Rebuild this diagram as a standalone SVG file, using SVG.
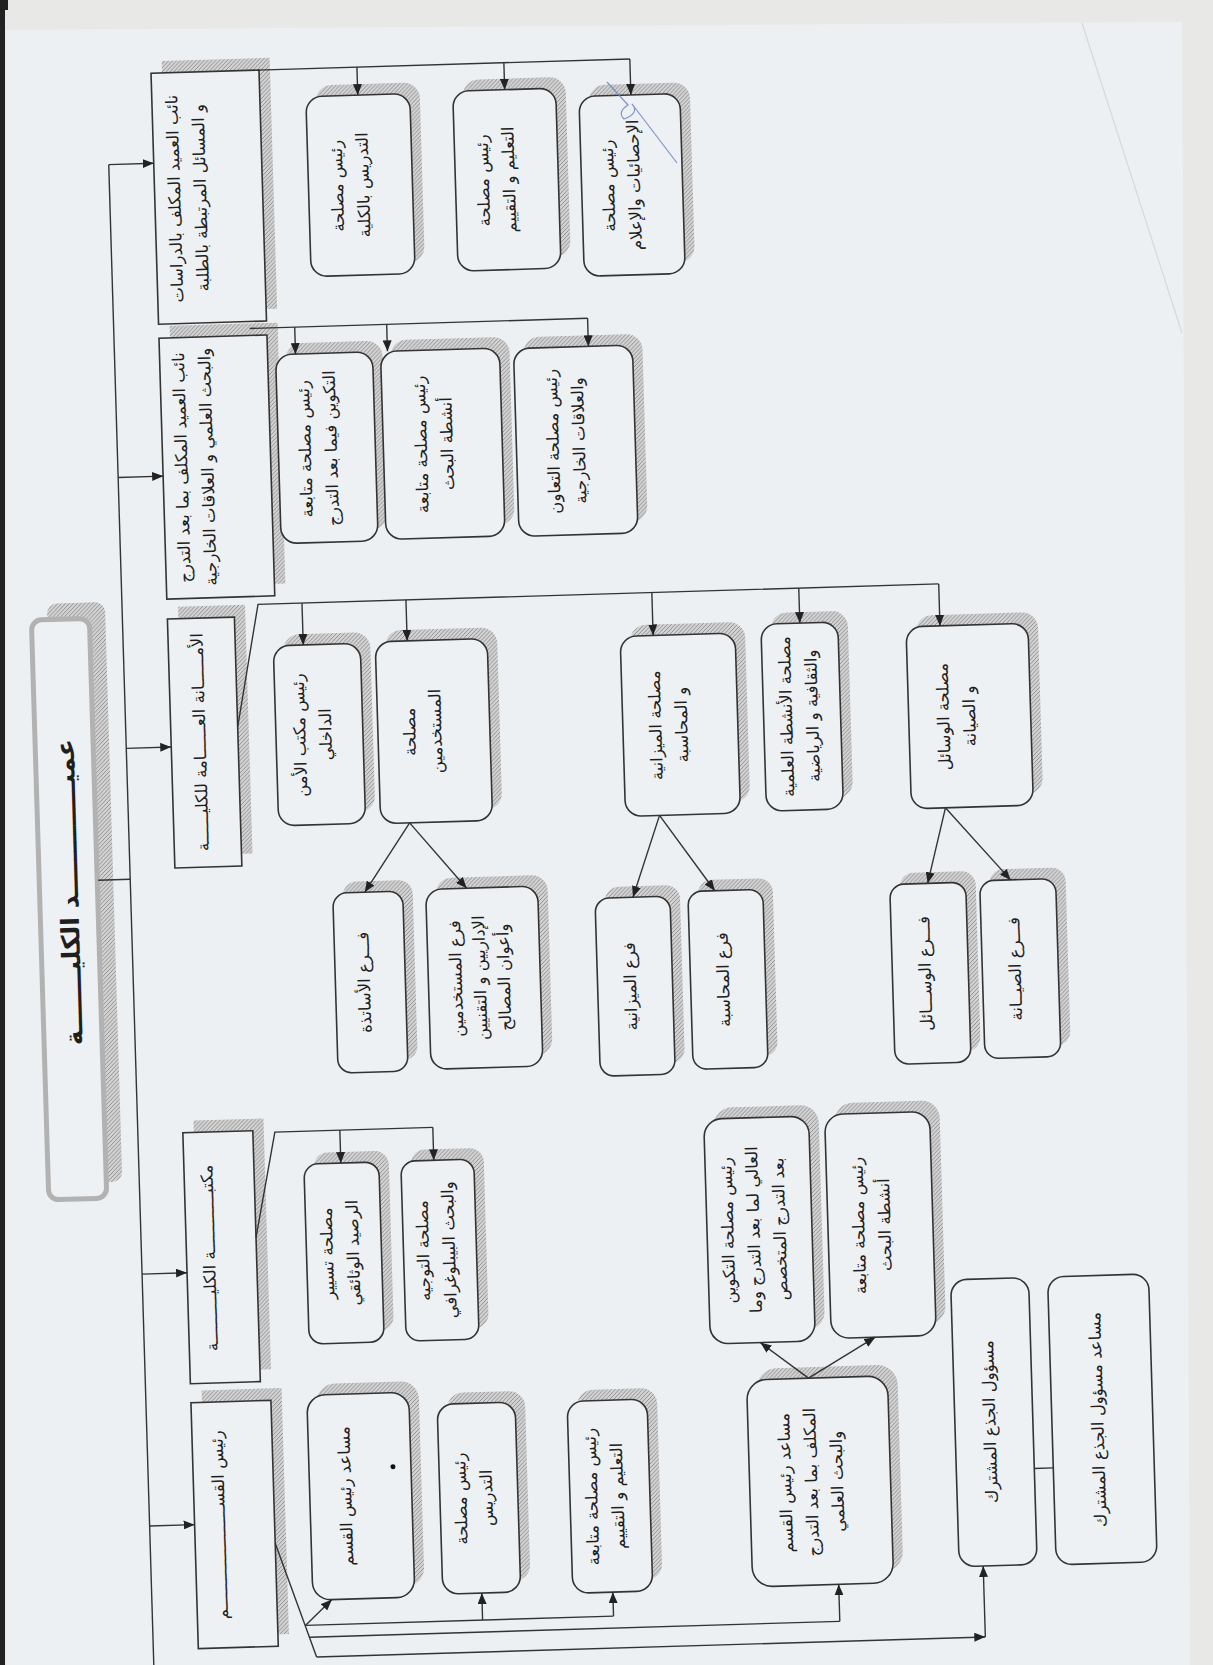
<svg xmlns="http://www.w3.org/2000/svg" width="1213" height="1665" viewBox="0 0 1213 1665">
<defs>
<pattern id="hatch" patternUnits="userSpaceOnUse" width="4" height="4">
<rect width="4" height="4" fill="#d4d4d4"/>
<path d="M-1,1 l2,-2 M0,4 l4,-4 M3,5 l2,-2" stroke="#8e8e8e" stroke-width="1"/>
</pattern>
<marker id="ah" markerUnits="userSpaceOnUse" markerWidth="11" markerHeight="9" refX="11" refY="4.5" orient="auto"><path d="M0,0 L11,4.5 L0,9 z" fill="#222"/></marker>
<style>
.bx{fill:#eef1f3;stroke:#333;stroke-width:1.6}
.sh{fill:url(#hatch)}
.cn{fill:none;stroke:#333;stroke-width:1.4}
.ar{marker-end:url(#ah)}
text{font-family:"DejaVu Sans",sans-serif;font-size:16.5px;fill:#1e1e1e;text-anchor:middle;dominant-baseline:central}
.t{font-size:25px;font-weight:bold}
</style>
</defs>
<rect width="1213" height="1665" fill="#e8e9e6"/>
<polygon points="6,30 1182,22 1190,1665 6,1665" fill="#edf0f2"/>
<line x1="1082" y1="23" x2="1182" y2="333" stroke="#d6d8da" stroke-width="1.2"/>
<rect x="0" y="8" width="5" height="1657" fill="#222"/>
<rect x="0" y="0" width="8" height="10" fill="#222"/>
<g transform="rotate(-1.72 606 832)">
<g id="title">
<rect class="sh" x="54" y="587" width="58" height="580" rx="10"/>
<rect x="38" y="603" width="58" height="580" rx="10" fill="#eef1f3" stroke="#b2b2b2" stroke-width="5"/>
<g transform="translate(68,876) rotate(-90)"><text class="t">عميـــــــــــــد الكليـــــــة</text></g>
</g>
<g id="a1">
<rect class="sh" x="185" y="48" width="108" height="251"/>
<rect class="bx" x="174" y="60" width="108" height="251"/>
<g transform="translate(207,186) rotate(-90)"><text y="-13">نائب العميد المكلف بالدراسات</text><text y="13">و المسائل المرتبطة بالطلبة</text></g>
</g>
<g id="a2">
<rect class="sh" x="185" y="313" width="108" height="261"/>
<rect class="bx" x="174" y="325" width="108" height="261"/>
<g transform="translate(206,455) rotate(-90)"><text y="-13">نائب العميد المكلف بما بعد التدرج</text><text y="13">والبحث العلمي و العلاقات الخارجية</text></g>
</g>
<g id="a3">
<rect class="sh" x="185" y="594" width="67" height="249"/>
<rect class="bx" x="174" y="606" width="67" height="249"/>
<g transform="translate(203,730) rotate(-90)"><text>الأمــــــانة العــــــامة للكليــــــة</text></g>
</g>
<g id="a4">
<rect class="sh" x="185" y="1108" width="70" height="251"/>
<rect class="bx" x="174" y="1120" width="70" height="251"/>
<g transform="translate(197,1246) rotate(-90)"><text>مكتبــــــــــــة الكليــــــــــة</text></g>
</g>
<g id="a5">
<rect class="sh" x="185" y="1378" width="80" height="246"/>
<rect class="bx" x="174" y="1390" width="80" height="246"/>
<g transform="translate(199,1513) rotate(-90)"><text>رئيس القســـــــــــــــــــــم</text></g>
</g>
<g id="c1">
<rect class="sh" x="338" y="77" width="104" height="180" rx="16"/>
<rect class="bx" x="328" y="88" width="104" height="180" rx="16"/>
<g transform="translate(370,178) rotate(-90)"><text y="-13">رئيس مصلحة</text><text y="13">التدريس بالكلية</text></g>
</g>
<g id="c2">
<rect class="sh" x="485" y="76" width="103" height="180" rx="16"/>
<rect class="bx" x="475" y="87" width="103" height="180" rx="16"/>
<g transform="translate(516,177) rotate(-90)"><text y="-13">رئيس مصلحة</text><text y="13">التعليم و التقييم</text></g>
</g>
<g id="c3">
<rect class="sh" x="611" y="85" width="101" height="180" rx="16"/>
<rect class="bx" x="601" y="96" width="101" height="180" rx="16"/>
<g transform="translate(641,186) rotate(-90)"><text y="-13">رئيس مصلحة</text><text y="13">الإحصائيات والإعلام</text></g>
</g>
<g id="d1">
<rect class="sh" x="300" y="334" width="97" height="189" rx="16"/>
<rect class="bx" x="290" y="345" width="97" height="189" rx="16"/>
<g transform="translate(330,440) rotate(-90)"><text y="-13">رئيس مصلحة متابعة</text><text y="13">التكوين فيما بعد التدرج</text></g>
</g>
<g id="d2">
<rect class="sh" x="405" y="334" width="119" height="188" rx="16"/>
<rect class="bx" x="395" y="345" width="119" height="188" rx="16"/>
<g transform="translate(446,439) rotate(-90)"><text y="-13">رئيس مصلحة متابعة</text><text y="13">أنشطة البحث</text></g>
</g>
<g id="d3">
<rect class="sh" x="538" y="335" width="119" height="188" rx="16"/>
<rect class="bx" x="528" y="346" width="119" height="188" rx="16"/>
<g transform="translate(578,440) rotate(-90)"><text y="-13">رئيس مصلحة التعاون</text><text y="13">والعلاقات الخارجية</text></g>
</g>
<g id="e1">
<rect class="sh" x="289" y="625" width="87" height="180" rx="16"/>
<rect class="bx" x="279" y="636" width="87" height="180" rx="16"/>
<g transform="translate(316,726) rotate(-90)"><text y="-13">رئيس مكتب الأمن</text><text y="13">الداخلي</text></g>
</g>
<g id="e2">
<rect class="sh" x="391" y="624" width="112" height="182" rx="16"/>
<rect class="bx" x="381" y="635" width="112" height="182" rx="16"/>
<g transform="translate(426,726) rotate(-90)"><text y="-13">مصلحة</text><text y="13">المستخدمين</text></g>
</g>
<g id="e3">
<rect class="sh" x="636" y="626" width="115" height="180" rx="16"/>
<rect class="bx" x="626" y="637" width="115" height="180" rx="16"/>
<g transform="translate(672,727) rotate(-90)"><text y="-13">مصلحة الميزانية</text><text y="13">و المحاسبة</text></g>
</g>
<g id="e4">
<rect class="sh" x="777" y="618" width="77" height="187" rx="16"/>
<rect class="bx" x="767" y="629" width="77" height="187" rx="16"/>
<g transform="translate(803,722) rotate(-90)"><text y="-13">مصلحة الأنشطة العلمية</text><text y="13">والثقافية و الرياضية</text></g>
</g>
<g id="e5">
<rect class="sh" x="922" y="625" width="122" height="182" rx="16"/>
<rect class="bx" x="912" y="636" width="122" height="182" rx="16"/>
<g transform="translate(960,727) rotate(-90)"><text y="-13">مصلحة الوسائل</text><text y="13">و الصيانة</text></g>
</g>
<g id="f1">
<rect class="sh" x="341" y="874" width="70" height="180" rx="14"/>
<rect class="bx" x="331" y="885" width="70" height="180" rx="14"/>
<g transform="translate(360,975) rotate(-90)"><text>فـــرع الأساتذة</text></g>
</g>
<g id="f2">
<rect class="sh" x="434" y="873" width="112" height="180" rx="16"/>
<rect class="bx" x="424" y="884" width="112" height="180" rx="16"/>
<g transform="translate(476,974) rotate(-90)"><text y="-24">فرع المستخدمين</text><text y="0">الإداريين و التقنيين</text><text y="24">وأعوان المصالح</text></g>
</g>
<g id="f3">
<rect class="sh" x="603" y="887" width="75" height="178" rx="14"/>
<rect class="bx" x="593" y="898" width="75" height="178" rx="14"/>
<g transform="translate(626,987) rotate(-90)"><text>فرع الميزانية</text></g>
</g>
<g id="f4">
<rect class="sh" x="696" y="883" width="75" height="178" rx="14"/>
<rect class="bx" x="686" y="894" width="75" height="178" rx="14"/>
<g transform="translate(719,983) rotate(-90)"><text>فرع المحاسبة</text></g>
</g>
<g id="f5">
<rect class="sh" x="898" y="882" width="76" height="180" rx="14"/>
<rect class="bx" x="888" y="893" width="76" height="180" rx="14"/>
<g transform="translate(921,983) rotate(-90)"><text>فـــرع الوســـائل</text></g>
</g>
<g id="f6">
<rect class="sh" x="988" y="881" width="76" height="178" rx="14"/>
<rect class="bx" x="978" y="892" width="76" height="178" rx="14"/>
<g transform="translate(1011,981) rotate(-90)"><text>فـــرع الصيــانة</text></g>
</g>
<g id="g1">
<rect class="sh" x="304" y="1144" width="75" height="180" rx="14"/>
<rect class="bx" x="294" y="1155" width="75" height="180" rx="14"/>
<g transform="translate(328,1245) rotate(-90)"><text y="-13">مصلحة تسيير</text><text y="13">الرصيد الوثائقي</text></g>
</g>
<g id="g2">
<rect class="sh" x="401" y="1144" width="73" height="180" rx="14"/>
<rect class="bx" x="391" y="1155" width="73" height="180" rx="14"/>
<g transform="translate(424,1245) rotate(-90)"><text y="-13">مصلحة التوجيه</text><text y="13">والبحث البيبلوغرافي</text></g>
</g>
<g id="h1">
<rect class="sh" x="300" y="1375" width="102" height="205" rx="18"/>
<rect class="bx" x="290" y="1386" width="102" height="205" rx="18"/>
<g transform="translate(326,1488) rotate(-90)"><text>مساعد رئيس القسم</text></g>
<circle cx="374" cy="1460" r="2.5" fill="#111"/>
</g>
<g id="h2">
<rect class="sh" x="430" y="1388" width="78" height="190" rx="16"/>
<rect class="bx" x="420" y="1399" width="78" height="190" rx="16"/>
<g transform="translate(454,1494) rotate(-90)"><text y="-13">رئيس مصلحة</text><text y="13">التدريس</text></g>
</g>
<g id="h3">
<rect class="sh" x="560" y="1389" width="80" height="192" rx="16"/>
<rect class="bx" x="550" y="1400" width="80" height="192" rx="16"/>
<g transform="translate(585,1496) rotate(-90)"><text y="-13">رئيس مصلحة متابعة</text><text y="13">التعليم و التقييم</text></g>
</g>
<g id="h4">
<rect class="sh" x="740" y="1373" width="141" height="207" rx="20"/>
<rect class="bx" x="730" y="1384" width="141" height="207" rx="20"/>
<g transform="translate(792,1488) rotate(-90)"><text y="-26">مساعد رئيس القسم</text><text y="0">المكلف بما بعد التدرج</text><text y="26">والبحث العلمي</text></g>
</g>
<g id="i1">
<rect class="sh" x="705" y="1111" width="105" height="225" rx="18"/>
<rect class="bx" x="695" y="1122" width="105" height="225" rx="18"/>
<g transform="translate(742,1234) rotate(-90)"><text y="-26">رئيس مصلحة التكوين</text><text y="0">العالي لما بعد التدرج وما</text><text y="26">بعد التدرج المتخصص</text></g>
</g>
<g id="i2">
<rect class="sh" x="826" y="1110" width="105" height="224" rx="18"/>
<rect class="bx" x="816" y="1121" width="105" height="224" rx="18"/>
<g transform="translate(860,1233) rotate(-90)"><text y="-13">رئيس مصلحة متابعة</text><text y="13">أنشطة البحث</text></g>
</g>
<g id="j1">
<rect class="bx" x="937" y="1290" width="78" height="287" rx="16"/>
<g transform="translate(972,1433) rotate(-90)"><text>مسؤول الجذع المشترك</text></g>
</g>
<g id="j2">
<rect class="bx" x="1034" y="1290" width="101" height="288" rx="16"/>
<g transform="translate(1080,1434) rotate(-90)"><text>مساعد مسؤول الجذع المشترك</text></g>
</g>
<g id="connectors">
<path class="cn" d="M129,150 V1680"/>
<path class="cn ar" d="M129,150 H174"/>
<path class="cn ar" d="M129,463 H174"/>
<path class="cn ar" d="M129,734 H174"/>
<path class="cn ar" d="M129,1260 H174"/>
<path class="cn ar" d="M129,1512 H174"/>
<path class="cn" d="M97,865 H129"/>
<path class="cn" d="M281,60 H653"/>
<path class="cn ar" d="M380,60 V88"/>
<path class="cn ar" d="M527,60 V87"/>
<path class="cn ar" d="M653,60 V96"/>
<path class="cn" d="M265,318 H603"/>
<path class="cn ar" d="M310,318 V345"/>
<path class="cn ar" d="M402,318 V345"/>
<path class="cn ar" d="M603,318 V346"/>
<path class="cn" d="M241,716 L265,594 H946"/>
<path class="cn ar" d="M309,594 V636"/>
<path class="cn ar" d="M413,594 V635"/>
<path class="cn ar" d="M659,594 V637"/>
<path class="cn ar" d="M806,594 V629"/>
<path class="cn ar" d="M946,594 V636"/>
<path class="cn ar" d="M410,817 L363,885"/>
<path class="cn ar" d="M410,817 L465,884"/>
<path class="cn ar" d="M660,817 L631,898"/>
<path class="cn ar" d="M660,817 L713,894"/>
<path class="cn ar" d="M946,818 L926,893"/>
<path class="cn ar" d="M946,818 L1009,892"/>
<path class="cn" d="M244,1227 L266,1122 H424"/>
<path class="cn ar" d="M331,1122 V1155"/>
<path class="cn ar" d="M424,1122 V1155"/>
<path class="cn ar" d="M792,1384 L745,1347"/>
<path class="cn ar" d="M792,1384 L860,1345"/>
<path class="cn" d="M254,1533 L292,1648"/>
<path class="cn" d="M282,1616 H590"/>
<path class="cn ar" d="M282,1616 L309,1591"/>
<path class="cn ar" d="M459,1616 V1589"/>
<path class="cn ar" d="M590,1616 V1592"/>
<path class="cn" d="M286,1628 H816"/>
<path class="cn ar" d="M816,1628 V1591"/>
<path class="cn ar" d="M292,1648 H961"/>
<path class="cn ar" d="M961,1648 V1577"/>
<path class="cn" d="M1015,1481 H1034"/>
</g>
</g>
<path d="M607,82 L628,105 Q617,112 624,119 Q640,113 632,104 L658,138 L677,163" fill="none" stroke="#6f82c4" stroke-width="1.2" opacity="0.85"/>
</svg>
